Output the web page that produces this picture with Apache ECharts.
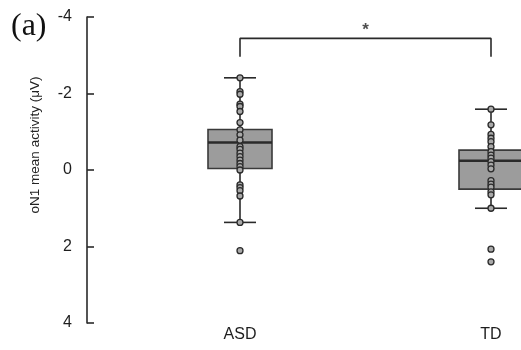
<!DOCTYPE html>
<html>
<head>
<meta charset="utf-8">
<script src="https://cdn.jsdelivr.net/npm/echarts@6/dist/echarts.min.js"></script>
<style>
  html, body { margin: 0; padding: 0; background: #fff; }
  #chart { width: 521px; height: 350px; }
</style>
</head>
<body>
<div id="chart"></div>
<script>
// groups on the x axis
const groups = ['ASD', 'TD']
const yTicks = [-4, -2, 0, 2, 4]

// box stats: [groupIndex, lowWhisker, Q1, median, Q3, highWhisker]
const asdBox = [0, -2.41, -1.06, -0.72, -0.04, 1.37]
const tdBox = [1, -1.59, -0.52, -0.24, 0.50, 1.00]

// individual subjects (µV)
const asdPoints = [-2.41, -2.05, -1.98, -1.72, -1.66, -1.53, -1.24, -1.05, -0.92, -0.78,
  -0.61, -0.54, -0.44, -0.35, -0.26, -0.17, -0.09, 0.0, 0.39, 0.46, 0.54, 0.68, 1.37, 2.11]
const tdPoints = [-1.59, -1.18, -0.93, -0.83, -0.74, -0.61, -0.48, -0.39, -0.31, -0.22,
  -0.13, -0.03, 0.28, 0.37, 0.45, 0.57, 0.65, 1.0, 2.07, 2.40]

// significance bracket (x in group index units)
const bracket = [[0, -2.96], [0, -3.44], [1, -3.44], [1, -2.96]]
const starPos = [0.5, -3.66]

const ink = '#2a2a2a'
const font = 'Liberation Sans, Arial, sans-serif'

const chart = echarts.init(document.getElementById('chart'))

function renderBox(params, api) {
  const x = api.value(0)
  const lo = api.coord([x, api.value(1)])
  const q1 = api.coord([x, api.value(2)])
  const md = api.coord([x, api.value(3)])
  const q3 = api.coord([x, api.value(4)])
  const hi = api.coord([x, api.value(5)])
  const cx = lo[0]
  const half = 32, cap = 16
  const line = (x1, y1, x2, y2, w) => ({
    type: 'line', shape: { x1, y1, x2, y2 }, style: { stroke: ink, lineWidth: w }
  })
  return {
    type: 'group',
    children: [
      line(cx, lo[1], cx, hi[1], 1.6),
      line(cx - cap, lo[1], cx + cap, lo[1], 1.6),
      line(cx - cap, hi[1], cx + cap, hi[1], 1.6),
      {
        type: 'rect',
        shape: { x: cx - half, y: Math.min(q1[1], q3[1]), width: half * 2, height: Math.abs(q3[1] - q1[1]) },
        style: { fill: '#9c9c9c', stroke: '#3a3a3a', lineWidth: 1.6 }
      },
      line(cx - half, md[1], cx + half, md[1], 2.6)
    ]
  }
}

chart.setOption({
  animation: false,
  backgroundColor: '#fff',
  graphic: [{
    type: 'text', left: 11, top: 11,
    style: { text: '(a)', font: '32px "Liberation Serif", "Times New Roman", serif', fill: '#111' }
  }],
  grid: { left: 114.5, width: 502, top: 17, bottom: 27, outerBoundsMode: 'none', containLabel: false },
  xAxis: [{
    type: 'category',
    data: groups,
    axisLine: { show: false },
    axisTick: { show: false },
    axisLabel: { fontSize: 16, color: '#1e1e1e', fontFamily: font, margin: 4 }
  }, {
    type: 'value', min: -0.5, max: 1.5, show: false
  }],
  yAxis: {
    type: 'value',
    inverse: true,
    min: yTicks[0], max: yTicks[yTicks.length - 1], interval: 2,
    offset: 27.5,
    name: 'oN1 mean activity (μV)',
    nameLocation: 'middle',
    nameGap: 45,
    nameTextStyle: { fontSize: 13.5, color: '#222', fontFamily: font, padding: [0, 0, 0, 50] },
    axisLine: { show: true, onZero: false, lineStyle: { color: ink, width: 1.6 } },
    axisTick: { show: true, inside: true, length: 7, lineStyle: { color: ink, width: 1.6 } },
    axisLabel: { fontSize: 16, color: '#1e1e1e', fontFamily: font, margin: 15 },
    splitLine: { show: false }
  },
  series: [
    {
      type: 'custom',
      renderItem: renderBox,
      encode: { x: 0, y: [1, 2, 3, 4, 5] },
      data: [asdBox, tdBox],
      z: 2
    },
    {
      type: 'scatter',
      data: asdPoints.map(v => ['ASD', v]).concat(tdPoints.map(v => ['TD', v])),
      symbolSize: 6,
      itemStyle: { color: '#a9a9a9', borderColor: ink, borderWidth: 1.3, opacity: 1 },
      z: 3
    },
    {
      type: 'line',
      xAxisIndex: 1,
      data: bracket,
      symbol: 'none',
      lineStyle: { color: ink, width: 1.6 }
    },
    {
      type: 'scatter',
      xAxisIndex: 1,
      data: [starPos],
      symbolSize: 2,
      itemStyle: { color: 'rgba(0,0,0,0)' },
      label: { show: true, position: 'inside', formatter: '*', fontSize: 17, fontWeight: 'bold', color: '#222', fontFamily: font }
    }
  ]
})
</script>
</body>
</html>
